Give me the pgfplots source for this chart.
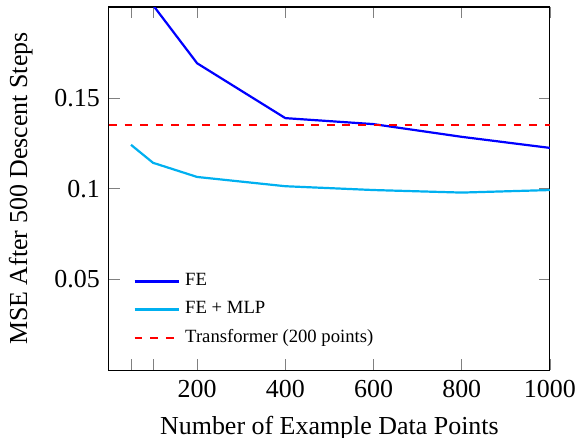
\documentclass[border=0pt]{standalone}
\usepackage{fontspec}
\setmainfont{Liberation Serif}
\usepackage{pgfplots}
\pgfplotsset{compat=1.18}
\usetikzlibrary{calc}
\definecolor{mlpblue}{RGB}{0,176,240}
\begin{document}
\begin{tikzpicture}
\begin{axis}[
    scale only axis,
    width=170pt, height=140pt,
    xmin=0, xmax=1000, ymin=0, ymax=0.2,
    xtick={50,100,200,400,600,800,1000},
    xticklabels={,,200,400,600,800,1000},
    ytick={0.05,0.1,0.15},
    yticklabels={0.05,0.1,0.15},
    xlabel={Number of Example Data Points},
    ylabel={MSE After 500 Descent Steps},
    xticklabel style={yshift=-0.5pt},
    ylabel style={yshift=1.5pt},
    legend style={at={(0.037,0.035)}, anchor=south west, draw=none, fill=none, font=\fontsize{7.2}{8.6}\selectfont, row sep=0.6pt},
    legend cell align=left,
]
\addplot[blue, line width=0.85pt] coordinates {
    (100,0.201) (200,0.169) (400,0.1388) (600,0.1355) (800,0.1285) (1000,0.1224)
};
\addlegendentry{FE}
\addplot[mlpblue, line width=0.85pt] coordinates {
    (50,0.1241) (100,0.1142) (200,0.1064) (400,0.1013) (600,0.0992) (800,0.0978) (1000,0.0992)
};
\addlegendentry{FE + MLP}
\addplot[red, dashed, line width=0.8pt] coordinates {
    (0,0.135) (1000,0.135)
};
\addlegendentry{Transformer (200 points)}
\end{axis}
\pgfresetboundingbox
\path ($(current axis.south west)+(-42pt,-25.8pt)$) rectangle ($(current axis.north east)+(11.2pt,2.7pt)$);
\end{tikzpicture}
\end{document}
